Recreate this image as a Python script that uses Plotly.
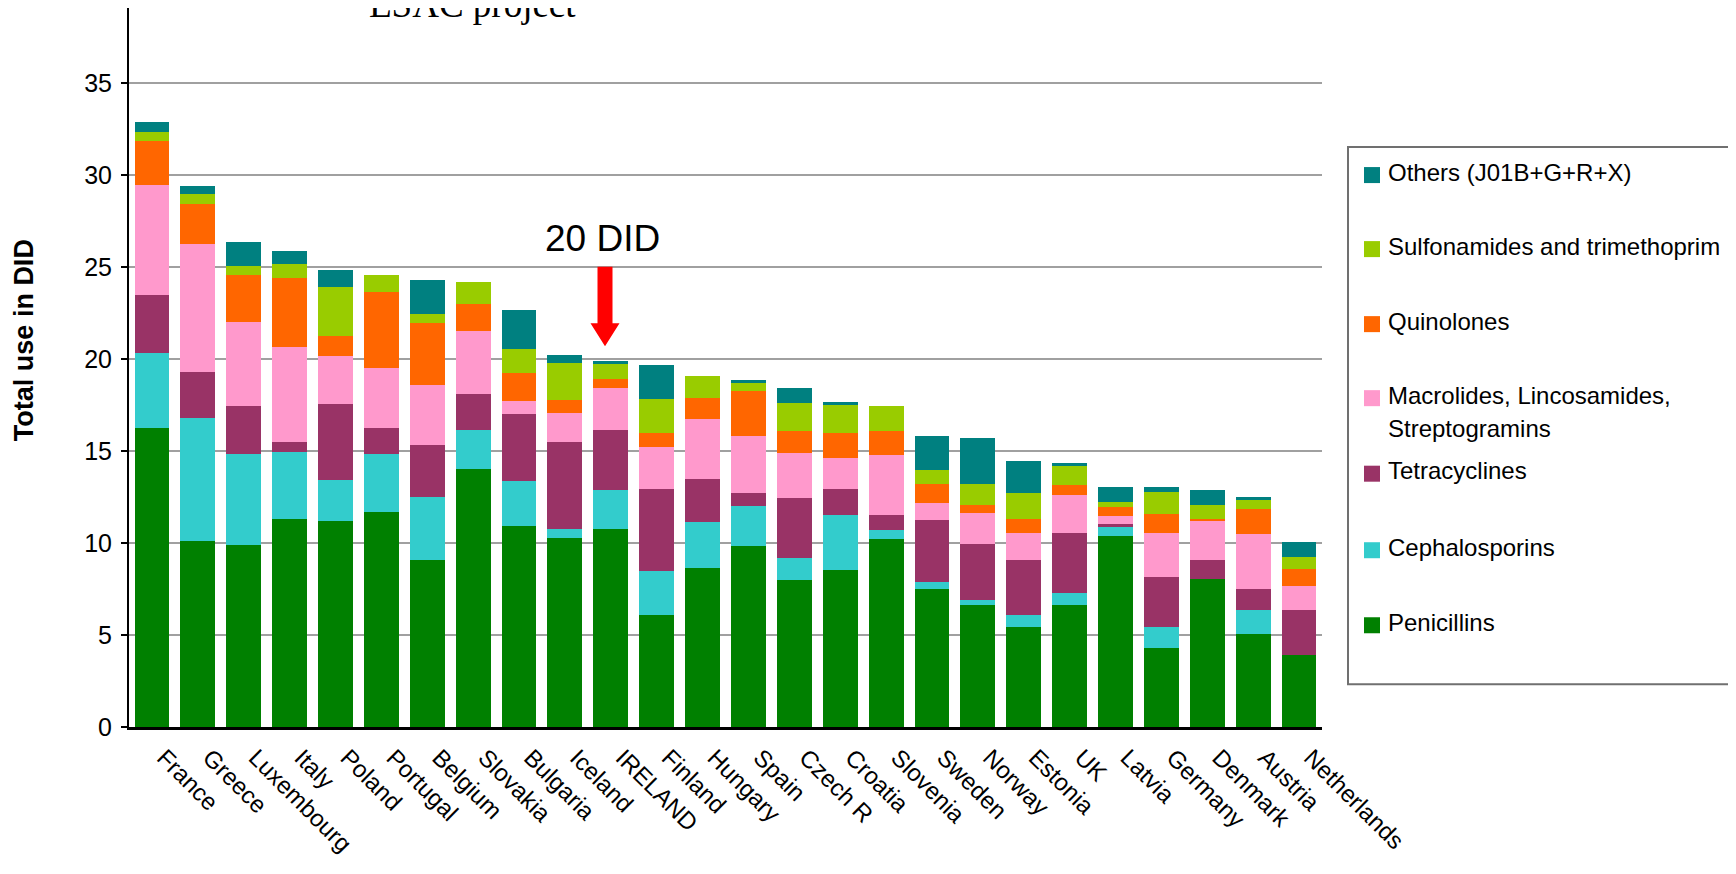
import plotly.graph_objects as go

countries = ["France", "Greece", "Luxembourg", "Italy", "Poland", "Portugal", "Belgium",
             "Slovakia", "Bulgaria", "Iceland", "IRELAND", "Finland", "Hungary", "Spain",
             "Czech R", "Croatia", "Slovenia", "Sweden", "Norway", "Estonia", "UK", "Latvia",
             "Germany", "Denmark", "Austria", "Netherlands"]

penicillins = [16.26, 10.11, 9.89, 11.31, 11.20, 11.69, 9.07, 14.03, 10.93, 10.27, 10.76, 6.07,
               8.67, 9.86, 8.02, 8.56, 10.24, 7.53, 6.61, 5.42, 6.62, 10.37, 4.28, 8.04, 5.04, 3.90]
cephalosporins = [4.10, 6.70, 4.96, 3.64, 2.23, 3.16, 3.43, 2.12, 2.45, 0.49, 2.13, 2.39,
                  2.50, 2.18, 1.19, 2.99, 0.49, 0.38, 0.27, 0.66, 0.66, 0.55, 1.15, 0.00, 1.30, 0.00]
tetracyclines = [3.11, 2.52, 2.61, 0.55, 4.14, 1.41, 2.84, 1.98, 3.64, 4.74, 3.26, 4.51,
                 2.33, 0.70, 3.26, 1.41, 0.82, 3.37, 3.09, 2.99, 3.26, 0.10, 2.72, 1.03, 1.15, 2.45]
macrolides = [6.00, 6.92, 4.59, 5.14, 2.63, 3.29, 3.28, 3.38, 0.71, 1.58, 2.30, 2.24,
              3.26, 3.10, 2.44, 1.68, 3.26, 0.92, 1.69, 1.48, 2.07, 0.44, 2.39, 2.13, 2.99, 1.31]
quinolones = [2.40, 2.19, 2.51, 3.76, 1.09, 4.09, 3.33, 1.47, 1.52, 0.72, 0.45, 0.76,
              1.14, 2.44, 1.20, 1.36, 1.30, 1.03, 0.43, 0.76, 0.55, 0.49, 1.04, 0.11, 1.36, 0.93]
sulfonamides = [0.49, 0.54, 0.49, 0.76, 2.62, 0.92, 0.49, 1.20, 1.31, 2.02, 0.82, 1.85,
                1.19, 0.43, 1.52, 1.52, 1.36, 0.76, 1.14, 1.41, 1.03, 0.27, 1.20, 0.76, 0.49, 0.65]
others = [0.54, 0.44, 1.31, 0.71, 0.93, 0.00, 1.85, 0.00, 2.13, 0.43, 0.16, 1.87,
          0.00, 0.17, 0.81, 0.16, 0.00, 1.85, 2.50, 1.74, 0.17, 0.82, 0.27, 0.82, 0.16, 0.80]

series_names = ["Penicillins", "Cephalosporins", "Tetracyclines",
                "Macrolides, Lincosamides, Streptogramins", "Quinolones",
                "Sulfonamides and trimethoprim", "Others (J01B+G+R+X)"]
series_values = [penicillins, cephalosporins, tetracyclines, macrolides, quinolones,
                 sulfonamides, others]
series_colors = ["#008000", "#33CCCC", "#993366", "#FF99CC", "#FF6600", "#99CC00", "#008080"]

# page geometry (the page body has an 8px default margin)
OFF = 8
PAGE_W, PAGE_H = 1736, 874
W, H = PAGE_W - OFF, PAGE_H - OFF
L, R, T, B = 129, 1322, 8, 726.7  # plot area in page pixels
PW, PH = R - L, B - T


def px(x):
    return (x - L) / PW


def py(y):
    return (B - y) / PH


FONT = "Arial, Liberation Sans, sans-serif"

fig = go.Figure()
for name, vals, col in zip(series_names, series_values, series_colors):
    fig.add_trace(go.Bar(x=countries, y=vals, name=name, marker_color=col,
                         marker_line_width=0, showlegend=False))

fig.update_layout(
    width=W, height=H,
    barmode="stack", bargap=0.24,
    paper_bgcolor="white", plot_bgcolor="white",
    margin=dict(l=L - OFF, r=PAGE_W - R, t=T - OFF, b=PAGE_H - B, pad=0, autoexpand=False),
    font=dict(family=FONT, color="black"),
    xaxis=dict(tickangle=45, tickfont=dict(size=24, family=FONT, color="black"),
               showline=True, linecolor="black", linewidth=3, ticks="",
               ticklabelshift=12, ticklabelstandoff=4,
               showgrid=False, zeroline=False, automargin=False),
    yaxis=dict(range=[0, 39.1], dtick=5, tick0=0, showgrid=True, gridcolor="#A0A0A0",
               gridwidth=2, showline=True, linecolor="black", linewidth=2,
               ticks="outside", ticklen=6, tickwidth=2, tickcolor="black",
               ticklabelstandoff=4, automargin=False,
               tickfont=dict(size=25, family=FONT, color="black"), zeroline=False),
)

shapes = []
annotations = []

# Title fragment (cropped at top in the original)
annotations.append(dict(text="ESAC project", xref="paper", yref="paper",
                        x=px(472), y=py(27), xanchor="center", yanchor="bottom",
                        showarrow=False,
                        font=dict(family="Times New Roman, Liberation Serif, serif", size=37,
                                  color="black")))

# Y axis title
annotations.append(dict(text="<b>Total use in DID</b>", xref="paper", yref="paper",
                        x=px(24), y=py(340), textangle=-90, showarrow=False,
                        xanchor="center", yanchor="middle",
                        font=dict(family=FONT, size=27, color="black")))

# 20 DID label and red arrow
annotations.append(dict(text="20 DID", xref="paper", yref="paper", x=px(602), y=py(238),
                        showarrow=False, xanchor="center", yanchor="middle",
                        font=dict(family=FONT, size=37, color="black")))
cx = 605
path = (f"M {px(cx-7.5)},{py(266.7)} L {px(cx+7.5)},{py(266.7)} L {px(cx+7.5)},{py(323)} "
        f"L {px(cx+14.5)},{py(323)} L {px(cx)},{py(346)} L {px(cx-14.5)},{py(323)} "
        f"L {px(cx-7.5)},{py(323)} Z")
shapes.append(dict(type="path", path=path, xref="paper", yref="paper",
                   fillcolor="#FF0000", line=dict(width=0)))

# Legend (drawn manually to match the original spacing)
shapes.append(dict(type="rect", xref="paper", yref="paper", x0=px(1348), x1=px(1734),
                   y0=py(684), y1=py(147), line=dict(color="#707070", width=2),
                   fillcolor="rgba(0,0,0,0)"))
legend_rows = [
    ("Others (J01B+G+R+X)", series_colors[6], 172),
    ("Sulfonamides and trimethoprim", series_colors[5], 246),
    ("Quinolones", series_colors[4], 321),
    ("Macrolides, Lincosamides,", series_colors[3], 395),
    ("Tetracyclines", series_colors[2], 470.5),
    ("Cephalosporins", series_colors[1], 547),
    ("Penicillins", series_colors[0], 622),
]
for text, col, yc in legend_rows:
    shapes.append(dict(type="rect", xref="paper", yref="paper", x0=px(1364), x1=px(1380),
                       y0=py(yc + 11), y1=py(yc - 5), fillcolor=col, line=dict(width=0)))
    annotations.append(dict(text=text, xref="paper", yref="paper", x=px(1386), y=py(yc),
                            xanchor="left", yanchor="middle", showarrow=False,
                            font=dict(family=FONT, size=24, color="black")))
annotations.append(dict(text="Streptogramins", xref="paper", yref="paper", x=px(1386),
                        y=py(428.5), xanchor="left", yanchor="middle", showarrow=False,
                        font=dict(family=FONT, size=24, color="black")))

fig.update_layout(shapes=shapes, annotations=annotations)
fig.write_html("out.html")
